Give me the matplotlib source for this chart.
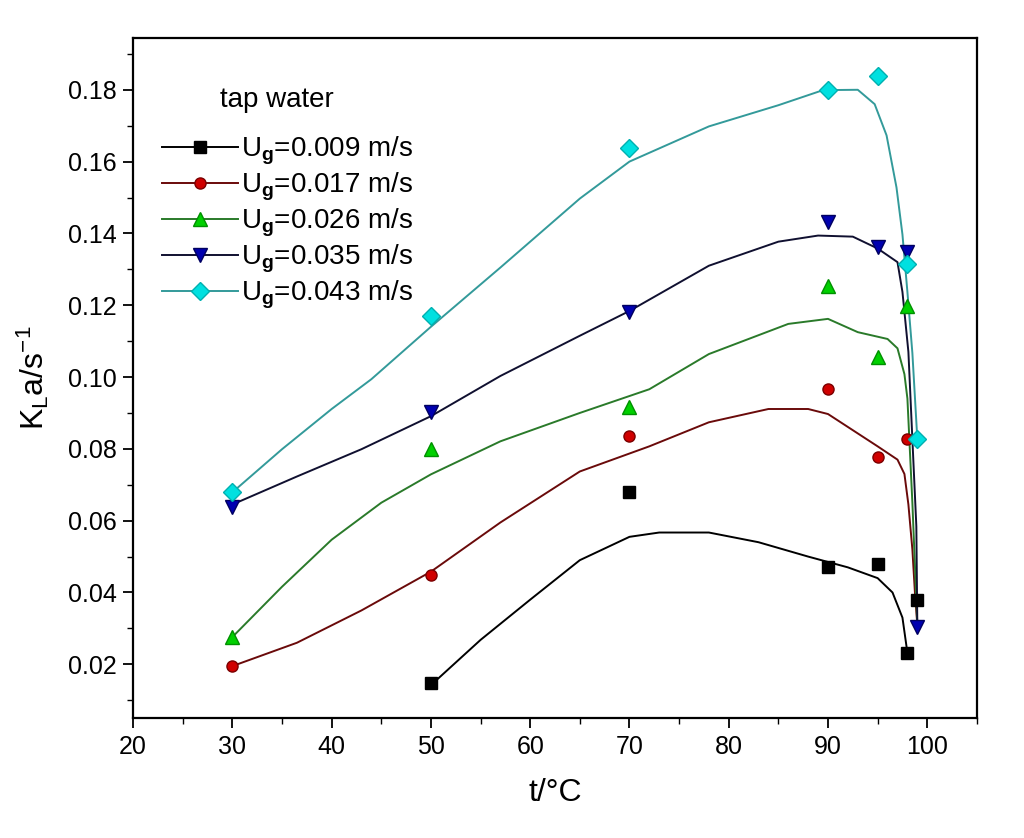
import matplotlib
matplotlib.use('Agg')
import matplotlib.pyplot as plt
from matplotlib.lines import Line2D
from matplotlib.ticker import MultipleLocator, FormatStrFormatter

plt.rcParams['font.family'] = ['Liberation Sans', 'DejaVu Sans']
plt.rcParams['mathtext.fontset'] = 'custom'
plt.rcParams['mathtext.rm'] = 'Liberation Sans'
plt.rcParams['mathtext.it'] = 'Liberation Sans'
plt.rcParams['mathtext.bf'] = 'Liberation Sans:bold'

# measured points (temperature in C, KLa in 1/s)
t_pts = [30, 50, 70, 90, 95, 98, 99]
kla_009 = [None, 0.0148, 0.0679, 0.0472, 0.0478, 0.0232, 0.038]
kla_017 = [0.0195, 0.045, 0.0835, 0.0966, 0.0776, 0.0827, None]
kla_026 = [0.0276, 0.0799, 0.0916, 0.1254, 0.1056, 0.1198, None]
kla_035 = [0.0637, 0.0902, 0.1182, 0.1433, 0.1363, 0.1347, 0.0304]
kla_043 = [0.0679, 0.117, 0.1637, 0.1799, 0.1838, 0.1316, 0.0827]

# smoothed curves
fit_t_009 = [50, 55, 60, 65, 70, 73, 78, 83, 88, 92, 95, 96.5, 97.5, 98]
fit_k_009 = [0.0142, 0.0268, 0.038, 0.049, 0.0555, 0.0567, 0.0567, 0.054, 0.050,
             0.047, 0.044, 0.040, 0.033, 0.0232]
fit_t_017 = [30, 36.5, 43, 50, 57, 65, 72, 78, 84, 88, 90, 95, 97, 97.7, 98.1,
             98.5, 98.8, 99]
fit_k_017 = [0.0195, 0.026, 0.035, 0.0458, 0.0595, 0.0737, 0.0807, 0.0874, 0.0911,
             0.0911, 0.0897, 0.0807, 0.077, 0.073, 0.0645, 0.052, 0.038, 0.031]
fit_t_026 = [30, 35, 40, 45, 50, 57, 65, 72, 78, 86, 90, 93, 96, 97, 97.7, 98,
             98.5, 99]
fit_k_026 = [0.0276, 0.0416, 0.0547, 0.065, 0.0729, 0.0821, 0.0900, 0.0966, 0.1064,
             0.1148, 0.1162, 0.1125, 0.1106, 0.108, 0.1008, 0.094, 0.065, 0.031]
fit_t_035 = [30, 36.5, 43, 50, 57, 65, 70, 78, 85, 89, 92.5, 95, 97, 97.5, 98.1,
             98.5, 98.9, 99]
fit_k_035 = [0.0645, 0.0723, 0.0799, 0.0891, 0.1003, 0.1115, 0.1184, 0.131, 0.1377,
             0.1394, 0.1391, 0.1358, 0.132, 0.1237, 0.107, 0.0827, 0.0584, 0.0304]
fit_t_043 = [30, 35, 40, 44, 50, 57, 65, 70, 78, 85, 89.5, 93, 94.7, 95.9, 96.9,
             97.5, 98, 98.5, 99]
fit_k_043 = [0.0679, 0.0799, 0.0911, 0.0994, 0.114, 0.1305, 0.1497, 0.160, 0.1698,
             0.1757, 0.1799, 0.180, 0.176, 0.1673, 0.1528, 0.1397, 0.1237, 0.1067,
             0.0827]

labels = ['U$_{\\mathbf{g}}$=0.009 m/s', 'U$_{\\mathbf{g}}$=0.017 m/s',
          'U$_{\\mathbf{g}}$=0.026 m/s', 'U$_{\\mathbf{g}}$=0.035 m/s',
          'U$_{\\mathbf{g}}$=0.043 m/s']

series = [
    (kla_009, fit_t_009, fit_k_009, 's', '#000000', '#000000', '#000000', 8),
    (kla_017, fit_t_017, fit_k_017, 'o', '#d00000', '#7a0000', '#6a0a0a', 8),
    (kla_026, fit_t_026, fit_k_026, '^', '#00d000', '#009000', '#2a7a2a', 10),
    (kla_035, fit_t_035, fit_k_035, 'v', '#0000b0', '#000060', '#101030', 10),
    (kla_043, fit_t_043, fit_k_043, 'D', '#00e0e0', '#00b0b0', '#339a9a', 9),
]

fig = plt.figure(figsize=(10.24, 8.38), dpi=100)
ax = fig.add_axes([0.130, 0.143, 0.824, 0.812])

handles = []
for (vals, ft, fk, mk, fc, ec, lc, ms), lab in zip(series, labels):
    xs = [t for t, v in zip(t_pts, vals) if v is not None]
    ys = [v for v in vals if v is not None]
    ax.plot(ft, fk, '-', color=lc, lw=1.4, zorder=2)
    ax.plot(xs, ys, linestyle='none', marker=mk, ms=ms, mfc=fc, mec=ec, zorder=3)
    handles.append(Line2D([], [], color=lc, lw=1.4, marker=mk, ms=ms, mfc=fc, mec=ec))

ax.set_xlim(20, 105)
ax.set_ylim(0.005, 0.1945)
ax.xaxis.set_major_locator(MultipleLocator(10))
ax.xaxis.set_minor_locator(MultipleLocator(5))
ax.yaxis.set_major_locator(MultipleLocator(0.02))
ax.yaxis.set_minor_locator(MultipleLocator(0.01))
ax.yaxis.set_major_formatter(FormatStrFormatter('%.2f'))
ax.set_xticks([20, 30, 40, 50, 60, 70, 80, 90, 100])
ax.tick_params(which='major', direction='out', length=7, width=1.3, labelsize=18,
               top=False, right=False, pad=5)
ax.tick_params(which='minor', direction='out', length=4, width=1.0,
               top=False, right=False)
for sp in ax.spines.values():
    sp.set_linewidth(1.6)

ax.set_xlabel('t/°C', fontsize=23, labelpad=14)
ax.set_ylabel('K$_{L}$a/s$^{-1}$', fontsize=23, labelpad=12)

fig.text(220 / 1024, 1 - 100 / 838, 'tap water', fontsize=20, va='center', ha='left')
leg = ax.legend(handles, labels, loc='upper left',
                bbox_to_anchor=(162 / 1024, 1 - 135 / 838),
                bbox_transform=fig.transFigure, frameon=False, fontsize=20,
                handlelength=2.75, handletextpad=0.1, labelspacing=0.13,
                borderpad=0, borderaxespad=0)

fig.savefig('out.png', dpi=100)
